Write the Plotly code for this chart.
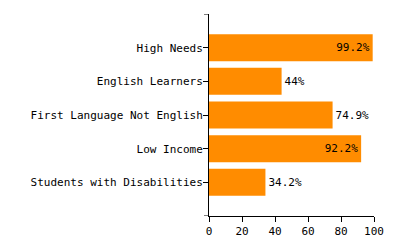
import plotly.graph_objects as go

categories = ["Students with Disabilities", "Low Income", "First Language Not English",
              "English Learners", "High Needs"]
values = [34.2, 92.2, 74.9, 44, 99.2]
labels = ["34.2%", "92.2%", "74.9%", "44%", "99.2%"]
x_ticks = [0, 20, 40, 60, 80, 100]
y_range = [-1, 5]

font = dict(family="DejaVu Sans Mono", size=11, color="black")
positions = ["inside" if v > 90 else "outside" for v in values]

fig = go.Figure(go.Bar(
    y=categories, x=values, orientation="h",
    marker=dict(color="#FF8C00", line=dict(width=0)),
    width=0.8,
    text=labels, textposition=positions,
    insidetextanchor="end",
    textfont=font, insidetextfont=font, outsidetextfont=font,
    cliponaxis=False,
))

# outer ticks at both ends of the y axis (d3 style)
for yv in y_range:
    fig.add_shape(type="line", xref="paper", yref="y", xsizemode="pixel", xanchor=0,
                  x0=-5, x1=0, y0=yv, y1=yv, line=dict(color="black", width=1))

fig.update_layout(
    width=400, height=250,
    margin=dict(l=209, r=26, t=14, b=29),
    paper_bgcolor="white", plot_bgcolor="white",
    font=font, showlegend=False,
    xaxis=dict(range=[0, 100], tickvals=x_ticks, showgrid=False, zeroline=False,
               showline=True, linecolor="black", linewidth=1,
               ticks="outside", ticklen=5, tickcolor="black", tickfont=font),
    yaxis=dict(range=y_range, showgrid=False, zeroline=False,
               showline=True, linecolor="black", linewidth=1,
               ticks="outside", ticklen=5, tickcolor="black", tickfont=font,
               ticklabelstandoff=-2),
)

fig.write_html("out.html")
